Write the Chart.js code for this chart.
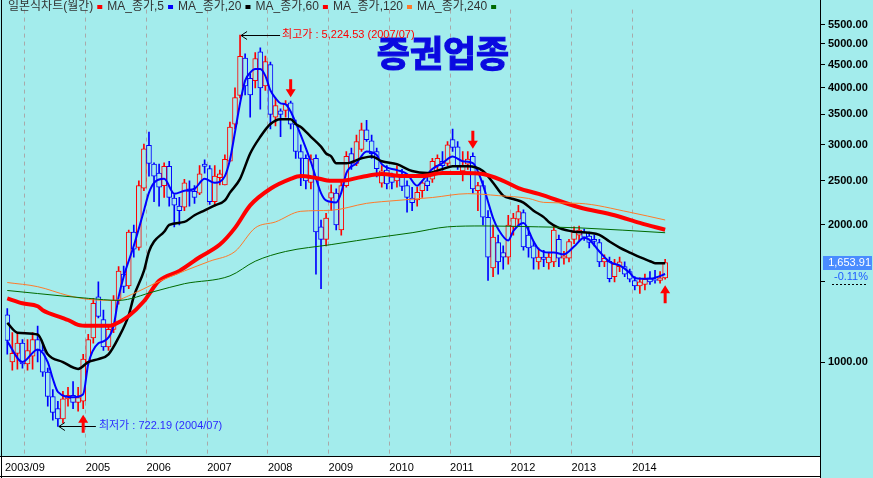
<!DOCTYPE html>
<html>
<head>
<meta charset="utf-8">
<script src="https://cdn.jsdelivr.net/npm/chart.js@4.4.1/dist/chart.umd.min.js"></script>
<style>
html, body { margin: 0; padding: 0; background: #a3ecec; }
</style>
</head>
<body>
<canvas id="stockChart" width="873" height="478"></canvas>
<script>
// monthly candles, index 0 = 2003/09
const startYear = 2003;
const startMonth = 9;

const opens = [
1270,1000,1045,1100,990,1030,1120,1060,950,840,
790,750,830,845,815,820,1000,1130,1390,1240,
1080,1180,1366,1560,1470,1930,1786,2410,2990,2720,
2600,2440,2690,2290,2200,2187,2400,2370,2350,2720,
2660,2250,2540,2450,2760,3330,3850,4650,4200,4150,
4800,4040,4500,3450,3560,3570,3710,3330,2900,2800,
2480,2800,1980,1860,2290,2350,1950,2440,2870,2730,
2930,3234,3060,2900,2470,2640,2550,2500,2560,2440,
2290,2270,2380,2500,2520,2700,2760,2730,3080,2970,
2630,2720,2830,2380,2440,2080,1610,1830,1740,1700,
1980,2060,2130,1900,1800,1660,1700,1650,1660,1860,
1690,1690,1860,1900,1930,1890,1860,1830,1660,1665,
1540,1620,1620,1580,1510,1470,1480,1530,1520,1510,
1530
];

const highs = [
1310,1160,1160,1120,1120,1160,1200,1100,970,870,
820,862,880,906,880,1040,1150,1380,1500,1300,
1200,1400,1620,1625,1950,2000,2500,3010,3200,2740,
2720,2740,2760,2330,2300,2520,2500,2440,2700,2780,
2700,2700,2640,2850,3365,4000,5224.53,4750,4300,4780,
4900,4700,4560,3800,3600,3750,3740,3400,3000,2850,
2850,2850,2050,2120,2450,2400,2520,2900,2950,3150,
3350,3393,3150,2950,2700,2700,2600,2700,2650,2500,
2420,2420,2500,2600,2800,2850,2900,3050,3249,3050,
2900,2900,2880,2480,2500,2150,2000,1900,1800,2100,
2120,2208,2160,1980,1840,1780,1760,1740,2000,1900,
1750,1860,1980,1990,1960,1930,1900,1860,1720,1700,
1680,1700,1660,1600,1540,1530,1560,1580,1590,1580,
1680
];

const lows = [
1040,960,965,970,960,965,1000,930,800,745,
722.19,735,800,790,780,790,985,1100,1250,1060,
1060,1160,1340,1420,1450,1700,1760,2380,2560,2250,
2200,2300,2200,1980,2000,2150,2200,2230,2330,2600,
2220,2200,2450,2450,2760,3250,3800,3860,3450,4000,
3590,3950,3250,3300,3124,3450,3250,2800,2440,2400,
2400,1560,1450,1800,2150,1950,1900,2420,2650,2700,
2900,3050,2800,2550,2420,2400,2400,2420,2380,2133,
2150,2200,2300,2380,2480,2600,2640,2700,2900,2650,
2500,2650,2350,2150,2000,1510,1540,1560,1600,1640,
1900,2000,1760,1700,1600,1600,1620,1600,1620,1620,
1640,1660,1820,1850,1850,1780,1800,1620,1620,1500,
1500,1580,1540,1500,1440,1414,1440,1480,1490,1490,
1520
];

const closes = [
1115,1045,1100,990,1060,1120,1060,950,840,775,
750,830,845,815,835,1015,1120,1346,1260,1080,
1180,1366,1585,1465,1930,1770,2440,2940,2730,2560,
2420,2690,2300,2210,2150,2475,2370,2300,2590,2690,
2250,2560,2590,2787,3282,3808,4690,4040,3860,4640,
4000,4570,3500,3660,3500,3680,3330,2900,2800,2500,
2790,1930,1860,2070,2355,2000,2440,2830,2730,3050,
3234,3080,2870,2660,2630,2460,2480,2560,2430,2300,
2240,2360,2475,2440,2760,2800,2700,3000,2960,2690,
2700,2790,2400,2440,2080,1700,1880,1660,1700,2000,
2070,2140,1790,1780,1690,1700,1680,1700,1950,1690,
1710,1840,1930,1950,1880,1830,1840,1660,1690,1525,
1640,1660,1560,1520,1470,1500,1520,1500,1510,1530,
1653.91
];

// moving averages: [month index, value]
const ma5 = [[0,1110],[3,1000],[6,1066],[8,1000],[9,919],[10,860],[13,837],[15,850],[16,990],[18,1100],[19,1110],[21,1200],[22,1390],[23,1540],[25,1800],[27,2150],[28,2355],[29,2475],[31,2525],[33,2343],[35,2378],[37,2402],[39,2525],[41,2475],[43,2560],[44,2780],[45,3200],[46,3700],[47,4150],[48,4320],[49,4400],[50,4400],[51,4250],[52,3950],[53,3800],[54,3700],[55,3680],[56,3550],[57,3350],[58,3150],[60,2750],[62,2350],[63,2264],[65,2242],[66,2355],[67,2600],[69,2733],[71,2900],[73,2850],[74,2720],[77,2640],[79,2588],[81,2438],[82,2500],[84,2653],[86,2733],[88,2829],[90,2760],[92,2733],[94,2450],[95,2250],[96,2071],[97,1960],[99,1850],[100,1940],[102,2021],[104,1840],[105,1770],[107,1740],[108,1740],[110,1724],[112,1793],[114,1875],[115,1857],[117,1749],[119,1660],[121,1630],[123,1570],[124,1530],[127,1523],[128,1531],[130,1561]];

const ma20 = [[0,1219],[2,1160],[6,1149],[8,1040],[11,1000],[14,966],[16,1000],[18,1015],[20,1040],[22,1132],[24,1268],[25,1393],[27,1585],[28,1749],[29,1839],[31,1933],[32,2000],[35,2031],[37,2101],[39,2154],[41,2208],[43,2264],[44,2355],[46,2525],[48,2871],[50,3124],[52,3332],[54,3415],[56,3415],[57,3332],[58,3282],[60,3124],[62,2972],[63,2871],[64,2829],[65,2733],[67,2733],[70,2801],[72,2829],[74,2760],[77,2720],[80,2627],[83,2601],[86,2653],[88,2692],[91,2692],[94,2627],[96,2475],[98,2320],[100,2280],[102,2240],[104,2150],[106,2081],[107,2031],[109,1971],[112,1933],[115,1923],[117,1903],[119,1839],[121,1784],[123,1740],[125,1699],[127,1665],[128,1649],[130,1649]];

const ma60 = [[0,1380],[3,1346],[6,1326],[7,1300],[11,1249],[12,1237],[14,1207],[16,1201],[18,1201],[20,1201],[21,1207],[24,1262],[27,1360],[30,1508],[34,1585],[38,1699],[42,1811],[45,1971],[48,2208],[52,2402],[56,2525],[58,2562],[61,2537],[64,2500],[66,2500],[70,2550],[74,2588],[78,2562],[82,2562],[86,2601],[90,2601],[94,2588],[98,2500],[101,2410],[105,2340],[113,2187],[120,2101],[125,2021],[130,1952]];

const ma120 = [[0,1495],[6,1464],[12,1400],[16,1373],[21,1366],[25,1414],[29,1486],[35,1585],[40,1665],[45,1749],[49,1971],[53,2031],[58,2143],[64,2154],[71,2231],[77,2264],[84,2298],[91,2343],[97,2320],[103,2287],[106,2242],[113,2231],[123,2133],[130,2051]];

const ma240 = [[0,1436],[6,1414],[16,1380],[22,1366],[29,1428],[35,1486],[44,1546],[49,1665],[55,1749],[64,1811],[74,1883],[80,1923],[87,1981],[94,1990],[105,1981],[113,1971],[130,1923]];

const yTicks = [1000,1500,2000,2500,3000,3500,4000,4500,5000,5500];
const xTickValues = [-0.45,3.5,15.5,27.5,39.5,51.5,63.5,75.5,87.5,99.5,111.5,123.5];
const xTickLabels = ["2003/09","","2005","2006","2007","2008","2009","2010","2011","2012","2013","2014"];

const legendNames = ["일본식차트(월간)","MA_종가,5","MA_종가,20","MA_종가,60","MA_종가,120","MA_종가,240"];
const legendColors = ["#ff0000","#0000ff","#000000","#ff0000","#ff7a2a","#006a00"];

const sellSignals = [56, 92];
const buySignals = [15, 130];
const changePct = -0.11;
const chartTitle = "증권업종";

const bgColor = "#a3ecec";
const upColor = "#ff0000";
const downColor = "#0000ff";

const candleColors = closes.map((c, i) => c > opens[i] ? upColor : downColor);
const monthIdx = closes.map((c, i) => i);

function monthName(m) {
    const t = startMonth - 1 + m;
    const yy = startYear + Math.floor(t / 12);
    const mm = (t % 12) + 1;
    return yy + "/" + (mm < 10 ? "0" + mm : mm);
}

function fmt(v) {
    return v.toLocaleString("en-US", { minimumFractionDigits: 2, maximumFractionDigits: 2 });
}

function maLine(points, color, width) {
    return {
        type: "line",
        data: points.map(p => ({ x: p[0], y: p[1] })),
        borderColor: color,
        borderWidth: width,
        pointRadius: 0,
        cubicInterpolationMode: "monotone",
        order: 0
    };
}

function redArrow(ctx, x, tip, dir) {
    // dir 1 points down, -1 points up
    ctx.beginPath();
    ctx.moveTo(x, tip);
    ctx.lineTo(x - 5, tip - dir * 8);
    ctx.lineTo(x - 1.5, tip - dir * 8);
    ctx.lineTo(x - 1.5, tip - dir * 18);
    ctx.lineTo(x + 1.5, tip - dir * 18);
    ctx.lineTo(x + 1.5, tip - dir * 8);
    ctx.lineTo(x + 5, tip - dir * 8);
    ctx.closePath();
    ctx.fill();
}

function leftArrow(ctx, x1, x2, y) {
    ctx.beginPath();
    ctx.moveTo(x2, y + 0.5);
    ctx.lineTo(x1, y + 0.5);
    ctx.moveTo(x1 + 6, y - 3.5);
    ctx.lineTo(x1, y + 0.5);
    ctx.lineTo(x1 + 6, y + 4.5);
    ctx.stroke();
}

const decor = {
    id: "decor",
    beforeDraw(chart) {
        const ctx = chart.ctx, a = chart.chartArea;
        ctx.save();
        ctx.fillStyle = bgColor;
        ctx.fillRect(0, 0, chart.width, chart.height);
        ctx.fillStyle = "#ffffff";
        ctx.fillRect(0, a.bottom, a.right, chart.height - a.bottom);
        ctx.strokeStyle = "#000";
        ctx.lineWidth = 1;
        ctx.beginPath();
        ctx.moveTo(1.5, 0); ctx.lineTo(1.5, chart.height);
        ctx.moveTo(0, a.bottom + 0.5); ctx.lineTo(a.right, a.bottom + 0.5);
        ctx.moveTo(0, chart.height - 1.5); ctx.lineTo(a.right, chart.height - 1.5);
        ctx.moveTo(a.right + 0.5, 0); ctx.lineTo(a.right + 0.5, chart.height);
        ctx.stroke();
        ctx.restore();
    },
    afterDraw(chart) {
        const ctx = chart.ctx, a = chart.chartArea;
        const xs = chart.scales.x, ys = chart.scales.y;
        ctx.save();

        // legend strip
        ctx.font = "12px Arial, 'Noto Sans CJK KR'";
        ctx.textBaseline = "middle";
        ctx.textAlign = "left";
        let lx = 8;
        legendNames.forEach((name, i) => {
            ctx.fillStyle = "#333";
            ctx.fillText(name, lx, 7);
            lx += ctx.measureText(name).width + 4;
            ctx.fillStyle = legendColors[i];
            ctx.fillRect(lx, 5, 5, 4);
            lx += 10;
        });

        // title
        ctx.font = "bold 36px 'Noto Sans CJK KR'";
        ctx.fillStyle = "#0a0ae0";
        ctx.strokeStyle = "#0a0ae0";
        ctx.lineWidth = 1.2;
        ctx.textAlign = "center";
        ctx.fillText(chartTitle, 443, 53);
        ctx.strokeText(chartTitle, 443, 53);

        // highest / lowest
        ctx.font = "11px Arial, 'Noto Sans CJK KR'";
        ctx.textAlign = "left";
        ctx.strokeStyle = "#000";
        ctx.lineWidth = 1;
        const hiVal = Math.max(...highs), hiM = highs.indexOf(hiVal);
        const hx = xs.getPixelForValue(hiM), hy = Math.round(ys.getPixelForValue(hiVal));
        leftArrow(ctx, hx + 1, hx + 40, hy);
        ctx.fillStyle = "#ff0000";
        ctx.fillText("최고가 : " + fmt(hiVal) + " (" + monthName(hiM) + ")", hx + 42, hy);

        const loVal = Math.min(...lows), loM = lows.indexOf(loVal);
        const lox = xs.getPixelForValue(loM), loy = Math.round(ys.getPixelForValue(loVal));
        leftArrow(ctx, lox + 1, lox + 38, loy);
        ctx.fillStyle = "#2a2aff";
        ctx.fillText("최저가 : " + fmt(loVal) + " (" + monthName(loM) + ")", lox + 41, loy);

        // signal arrows
        ctx.fillStyle = "#ff0000";
        sellSignals.forEach(m => redArrow(ctx, xs.getPixelForValue(m), ys.getPixelForValue(highs[m]) - 4, 1));
        buySignals.forEach(m => redArrow(ctx, xs.getPixelForValue(m), ys.getPixelForValue(lows[m]) + 6, -1));

        // last price box
        const last = closes[closes.length - 1];
        const py = Math.round(ys.getPixelForValue(last));
        ctx.fillStyle = "#4a8cff";
        ctx.fillRect(a.right + 3, py - 7, chart.width - a.right - 4, 14);
        ctx.fillStyle = "#ffffff";
        ctx.textAlign = "right";
        ctx.fillText(fmt(last), chart.width - 2, py);
        ctx.fillStyle = "#1f5cff";
        ctx.fillText(changePct.toFixed(2) + "%", chart.width - 5, py + 14);
        ctx.strokeStyle = "#000";
        ctx.setLineDash([2, 2]);
        ctx.beginPath();
        ctx.moveTo(a.right + 12, py + 21.5);
        ctx.lineTo(chart.width - 5, py + 21.5);
        ctx.stroke();
        ctx.restore();
    }
};

new Chart(document.getElementById("stockChart"), {
    type: "bar",
    data: {
        datasets: [
            maLine(ma240, "#006a00", 1),
            maLine(ma120, "#ff7a2a", 1),
            maLine(ma60, "#ff0000", 4),
            maLine(ma20, "#000000", 2.5),
            maLine(ma5, "#0000ff", 2),
            {
                label: "body",
                data: monthIdx.map(i => ({ x: i, y: [opens[i], closes[i]] })),
                backgroundColor: bgColor,
                borderColor: candleColors,
                borderWidth: 1,
                borderSkipped: false,
                barThickness: 5,
                grouped: false,
                order: 1
            },
            {
                label: "wick",
                data: monthIdx.map(i => ({ x: i, y: [lows[i], highs[i]] })),
                backgroundColor: candleColors,
                borderWidth: 0,
                barThickness: 1,
                grouped: false,
                order: 2
            }
        ]
    },
    options: {
        responsive: false,
        animation: false,
        devicePixelRatio: 1,
        layout: { padding: { left: 2, top: 0, right: 0, bottom: 0 } },
        plugins: {
            legend: { display: false },
            tooltip: { enabled: false }
        },
        scales: {
            x: {
                type: "linear",
                min: -0.45,
                max: 160.6,
                offset: false,
                bounds: "data",
                afterBuildTicks: s => { s.ticks = xTickValues.map(v => ({ value: v })); },
                afterFit: s => { s.height = 22; },
                border: { display: false, dash: [4, 4] },
                grid: {
                    offset: false,
                    drawTicks: false,
                    color: c => c.index === 0 ? "rgba(0,0,0,0)" : "#a9a9a9"
                },
                ticks: {
                    autoSkip: false,
                    maxRotation: 0,
                    align: "start",
                    padding: 5,
                    color: "#000",
                    font: { family: "Arial", size: 11 },
                    callback: (v, i) => xTickLabels[i]
                }
            },
            y: {
                type: "logarithmic",
                position: "right",
                min: 621.8,
                max: 5943,
                bounds: "data",
                afterBuildTicks: s => { s.ticks = yTicks.map(v => ({ value: v })); },
                afterFit: s => { s.width = 53; },
                border: { display: true, color: "#000", width: 1 },
                grid: { drawOnChartArea: false, drawTicks: true, tickLength: 5, color: "#000" },
                ticks: {
                    padding: 3,
                    color: "#000",
                    font: { family: "Arial", size: 11, weight: "bold" },
                    callback: v => v === 1500 ? "" : v.toFixed(2)
                }
            }
        }
    },
    plugins: [decor]
});
</script>
</body>
</html>
